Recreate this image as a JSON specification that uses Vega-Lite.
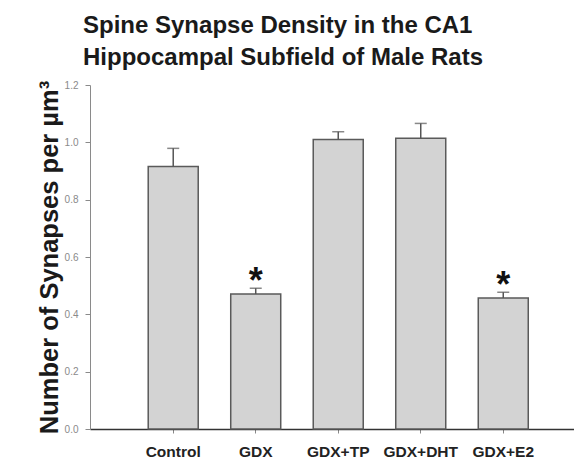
{
  "$schema": "https://vega.github.io/schema/vega-lite/v6.json",
  "autosize": "none",
  "width": 484,
  "height": 344,
  "padding": {"left": 90, "top": 85, "right": 0, "bottom": 32},
  "background": "white",
  "title": {
    "text": ["Spine Synapse Density in the CA1", "Hippocampal Subfield of Male Rats"],
    "font": "Liberation Sans",
    "fontSize": 24,
    "fontWeight": "bold",
    "color": "#1a1a1a",
    "lineHeight": 32,
    "anchor": "start",
    "frame": "group",
    "dx": -7,
    "offset": 10
  },
  "data": {
    "values": [
      {"group": "Control", "mean": 0.916, "upper": 0.979, "sig": ""},
      {"group": "GDX", "mean": 0.471, "upper": 0.491, "sig": "*"},
      {"group": "GDX+TP", "mean": 1.010, "upper": 1.037, "sig": ""},
      {"group": "GDX+DHT", "mean": 1.014, "upper": 1.066, "sig": ""},
      {"group": "GDX+E2", "mean": 0.457, "upper": 0.477, "sig": "*"}
    ]
  },
  "config": {
    "view": {"stroke": null},
    "axis": {"grid": false}
  },
  "encoding": {
    "x": {
      "field": "group",
      "type": "nominal",
      "sort": null,
      "scale": {"paddingInner": 0.394, "paddingOuter": 0.63, "align": 0.56},
      "axis": {
        "title": null,
        "labelAngle": 0,
        "labelFont": "Liberation Sans",
        "labelFontSize": 15.5,
        "labelFontWeight": "bold",
        "labelColor": "#222222",
        "labelPadding": 11,
        "tickSize": 4,
        "tickColor": "#888888",
        "domainColor": "#333333",
        "domainWidth": 1.5
      }
    }
  },
  "layer": [
    {
      "mark": {"type": "bar", "fill": "#d3d3d3", "stroke": "#5a5a5a", "strokeWidth": 1.5},
      "encoding": {
        "y": {
          "field": "mean",
          "type": "quantitative",
          "scale": {"domain": [0, 1.2], "nice": false},
          "axis": {
            "values": [0, 0.2, 0.4, 0.6, 0.8, 1.0, 1.2],
            "format": ".1f",
            "title": "Number of Synapses per µm³",
            "titleFont": "Liberation Sans",
            "titleFontSize": 25.5,
            "titleFontWeight": "bold",
            "titleColor": "#1a1a1a",
            "titlePadding": 2,
            "labelFont": "Liberation Sans",
            "labelFontSize": 10,
            "labelColor": "#8a8a8a",
            "labelPadding": 7,
            "tickSize": 5,
            "tickColor": "#8a8a8a",
            "domainColor": "#8a8a8a"
          }
        }
      }
    },
    {
      "mark": {"type": "rule", "stroke": "#555555", "strokeWidth": 1.5},
      "encoding": {
        "y": {"field": "mean", "type": "quantitative"},
        "y2": {"field": "upper"}
      }
    },
    {
      "mark": {"type": "tick", "color": "#555555", "size": 12, "thickness": 1.5, "orient": "horizontal"},
      "encoding": {
        "y": {"field": "upper", "type": "quantitative"}
      }
    },
    {
      "mark": {"type": "text", "font": "Liberation Sans", "fontSize": 36, "fontWeight": "bold", "color": "#111111", "baseline": "alphabetic", "dy": 5},
      "encoding": {
        "y": {"field": "upper", "type": "quantitative"},
        "text": {"field": "sig"}
      }
    }
  ]
}
